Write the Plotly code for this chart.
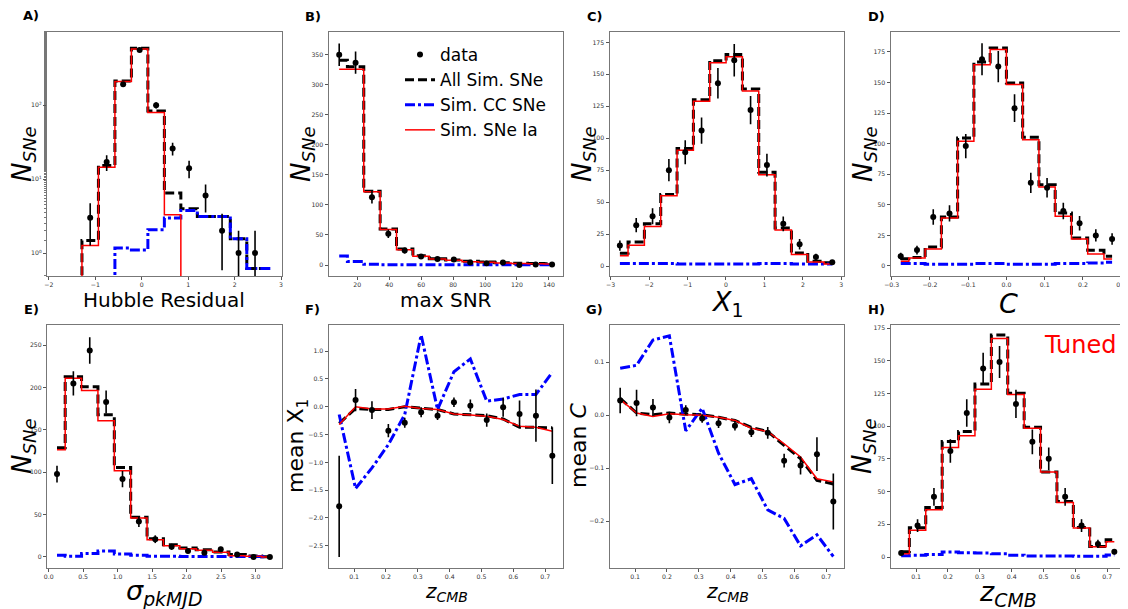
import numpy as np
import plotly.graph_objects as go

# page is shown with an 8px body margin, so the figure is laid out in page pixels
OFF = 8
W, H = 1120, 601

# ---------------- data ----------------
# A) Hubble residual (log y)
hubble_x = [-1.465, -1.11, -0.755, -0.40, -0.045, 0.31, 0.665, 1.02, 1.375, 1.73, 2.085, 2.44, 2.795]
hubble_all = [0, 1.48, 15.3, 213, 589, 83.8, 6.47, 3.97, 3.13, 3.13, 1.56, 0.62, 0.62]
hubble_cc = [0, 0, 0, 1.17, 1.1, 2.07, 2.97, 3.77, 3.13, 3.13, 1.56, 0.62, 0.62]
hubble_ia = [0, 1.27, 14.5, 209, 577, 79.6, 3.3, 0, 0, 0, 0, 0, 0]
hubble_data_x = [-1.11, -0.755, -0.40, -0.045, 0.31, 0.665, 1.02, 1.375, 1.73, 2.085, 2.44]
hubble_data = [3, 17, 192, 560, 100, 26, 14, 6, 2, 1, 1]

# B) max SNR
snr_x = [8.7, 18.95, 29.2, 39.45, 49.7, 59.95, 70.2, 80.45, 90.7, 100.95, 111.2, 121.45, 131.7, 141.95]
snr_all = [341, 330, 123, 60, 26.7, 15.6, 10.6, 8.3, 6.1, 5, 3.9, 3, 2.5, 2]
snr_cc = [15, 6, 1.2, 0.5, 0.5, 0.5, 0.5, 0.5, 0.5, 0.5, 0.5, 0.5, 0.5, 0.5]
snr_ia = [326, 326, 122, 59, 25.6, 14.4, 10, 7.8, 5.6, 4.4, 3.3, 2.5, 2, 1.5]
snr_data = [350, 337, 113, 52, 24, 14, 10, 9, 4, 3, 4, 0, 1, 1]

# C) X1
x1_x = [-2.76, -2.335, -1.91, -1.485, -1.06, -0.635, -0.21, 0.215, 0.64, 1.065, 1.49, 1.915, 2.34, 2.765]
x1_all = [10, 18.8, 33, 56, 92, 130, 160.7, 165.4, 138.5, 73.3, 29.7, 10.2, 3.7, 2.5]
x1_cc = [2, 2, 2, 2, 1.5, 1.5, 1.5, 1.5, 1.5, 2, 2, 1.5, 1.5, 1.5]
x1_ia = [8, 16.2, 31, 55, 90.5, 129, 159, 163.8, 137, 71.5, 28.2, 9.1, 3.1, 1.5]
x1_data = [16, 32, 39, 75, 89, 106, 143, 161, 122, 79, 33, 17, 7, 3]

# D) C
c_x = [-0.27625, -0.23375, -0.19125, -0.14875, -0.10625, -0.06375, -0.02125,
       0.02125, 0.06375, 0.10625, 0.14875, 0.19125, 0.23375, 0.27625]
c_all = [6, 7, 15.5, 40, 104.7, 166.8, 178.2, 149.6, 105.2, 66.5, 43.3, 22.9, 12.8, 7.9]
c_cc = [2, 2, 1.5, 1.5, 1.5, 2, 2, 1.5, 1.5, 1.5, 2, 2, 2.5, 3]
c_ia = [3.8, 6.5, 13.9, 39.2, 102, 164.6, 176.9, 148.3, 103.3, 64.6, 40.6, 22, 9.8, 5.7]
c_data = [8, 13, 40, 43, 98, 169, 163, 129, 68, 64, 45, 35, 25, 22]

# E) sigma pkMJD
pk_x = [0.121, 0.3585, 0.596, 0.8335, 1.071, 1.3085, 1.546, 1.7835, 2.021, 2.2585, 2.496, 2.7335, 2.971, 3.2085]
pk_all = [129, 213, 201, 168, 105.7, 46.8, 21.6, 14.5, 10.6, 8.6, 5.9, 2.8, 1.2, 0.4]
pk_cc = [2, 1, 4, 7, 3.5, 2, 1, 1, 0.5, 0.5, 0.5, 0.5, 0.5, 0.3]
pk_ia = [126.6, 211, 196.5, 161, 101.8, 46, 20.4, 13.4, 9.8, 7.9, 5.5, 1.6, 0.8, 0]
pk_data = [98, 205, 244, 183, 92, 42, 21, 12, 7, 5, 9, 3, 0, 0]

# redshift bins (F, G, H)
z_x = [0.053, 0.1045, 0.156, 0.2075, 0.259, 0.3105, 0.362, 0.4135, 0.465, 0.5165, 0.568, 0.6195, 0.671, 0.7225]

# F) mean X1 vs z
mx1_all = [-0.30, -0.03, -0.05, -0.05, 0.0, -0.02, -0.05, -0.13, -0.14, -0.16, -0.22, -0.37, -0.37, -0.38]
mx1_cc = [-0.14, -1.47, -1.10, -0.68, -0.14, 1.29, -0.05, 0.63, 0.86, 0.10, 0.14, 0.22, 0.22, 0.62]
mx1_ia = [-0.32, 0.0, -0.04, -0.04, 0.01, -0.03, -0.05, -0.13, -0.15, -0.17, -0.23, -0.35, -0.37, -0.44]
mx1_data = [-1.79, 0.12, -0.06, -0.43, -0.29, -0.10, -0.16, 0.08, 0.02, -0.24, -0.01, -0.13, -0.16, -0.88]
mx1_err = [0.91, 0.2, 0.16, 0.12, 0.09, 0.09, 0.08, 0.085, 0.11, 0.12, 0.17, 0.24, 0.47, 0.51]

# G) mean C vs z
mc_all = [0.032, 0.004, 0.001, 0.004, 0.002, 0.001, -0.004, -0.010, -0.023, -0.031, -0.057, -0.082, -0.123, -0.130]
mc_cc = [0.0887, 0.0943, 0.142, 0.150, -0.0296, 0.0132, -0.0717, -0.131, -0.120, -0.179, -0.195, -0.247, -0.226, -0.267]
mc_ia = [0.030, 0.004, -0.0025, 0.0025, 0.0006, 0.0, -0.004, -0.010, -0.0245, -0.031, -0.054, -0.079, -0.120, -0.126]
mc_data = [0.0277, 0.023, 0.0145, -0.0044, 0.010, -0.0063, -0.015, -0.020, -0.032, -0.0333, -0.086, -0.095, -0.0736, -0.163]
mc_err = [0.024, 0.025, 0.016, 0.011, 0.009, 0.008, 0.009, 0.009, 0.009, 0.011, 0.013, 0.017, 0.032, 0.053]

# H) z histogram
hz_all = [4, 22.4, 37.9, 88.3, 96, 132.3, 169.7, 125.2, 99.2, 64.9, 42.5, 22.6, 8.1, 13.2]
hz_cc = [1, 1.3, 2, 3.8, 3.3, 3, 2.5, 1.3, 0.8, 0.8, 0.8, 0.5, 0.5, 1.5]
hz_ia = [2.5, 20.4, 36.1, 83.7, 92.6, 128.2, 167, 124.1, 98.4, 65, 41.7, 22.1, 7.9, 11.7]
hz_data = [3, 24, 46, 81, 110, 144, 149, 117, 88, 75, 46, 24, 10, 4]

# ---------------- layout helpers ----------------
FONT = "DejaVu Sans"
cols_px = [(47, 281.5), (328.5, 563), (609.5, 844), (890.5, 1125)]
rows_px = [(32, 276), (325, 568)]


def px_x(v):
    return (v - OFF) / W


def px_y(v):
    return 1 - (v - OFF) / H


BLACK = dict(color="black", width=3, dash="9px,4px")
BLUE = dict(color="#0000ff", width=3, dash="10px,3px,3px,3px")
RED = dict(color="#ff0000", width=1.5)

fig = go.Figure()

panels = []
panels.append((1, hubble_x, hubble_all, hubble_cc, hubble_ia, hubble_data_x, hubble_data, None, "hvh", True, False))
panels.append((2, snr_x, snr_all, snr_cc, snr_ia, snr_x, snr_data, None, "hvh", False, True))
panels.append((3, x1_x, x1_all, x1_cc, x1_ia, x1_x, x1_data, None, "hvh", False, False))
panels.append((4, c_x, c_all, c_cc, c_ia, c_x, c_data, None, "hvh", False, False))
panels.append((5, pk_x, pk_all, pk_cc, pk_ia, pk_x, pk_data, None, "hvh", False, False))
panels.append((6, z_x, mx1_all, mx1_cc, mx1_ia, z_x, mx1_data, mx1_err, "linear", False, False))
panels.append((7, z_x, mc_all, mc_cc, mc_ia, z_x, mc_data, mc_err, "linear", False, False))
panels.append((8, z_x, hz_all, hz_cc, hz_ia, z_x, hz_data, None, "hvh", False, False))

for idx, xs, yall, ycc, yia, dx, dy, err, shape, logy, leg in panels:
    xa = "x" if idx == 1 else f"x{idx}"
    ya = "y" if idx == 1 else f"y{idx}"

    def prep(v):
        v = np.asarray(v, dtype=float)
        if logy:
            return np.where(v > 0, v, 1e-3)
        return v

    fig.add_trace(go.Scatter(x=xs, y=prep(yall), mode="lines", line=dict(shape=shape, **BLACK),
                             name="All Sim. SNe", showlegend=leg, legendrank=2, xaxis=xa, yaxis=ya))
    fig.add_trace(go.Scatter(x=xs, y=prep(ycc), mode="lines", line=dict(shape=shape, **BLUE),
                             name="Sim. CC SNe", showlegend=leg, legendrank=3, xaxis=xa, yaxis=ya))
    fig.add_trace(go.Scatter(x=xs, y=prep(yia), mode="lines", line=dict(shape=shape, **RED),
                             name="Sim. SNe Ia", showlegend=leg, legendrank=4, xaxis=xa, yaxis=ya))
    dyv = np.asarray(dy, dtype=float)
    e = np.sqrt(dyv) if err is None else np.asarray(err, dtype=float)
    fig.add_trace(go.Scatter(x=dx, y=dyv, mode="markers",
                             marker=dict(color="black", size=6),
                             error_y=dict(type="data", array=e, visible=True, color="black",
                                          thickness=1.6, width=0),
                             name="data", showlegend=leg, legendrank=1, xaxis=xa, yaxis=ya))

axis_common = dict(showline=True, mirror=True, linecolor="#777", linewidth=1,
                   ticks="outside", ticklen=3, tickwidth=1, tickcolor="#555",
                   showgrid=False, zeroline=False, automargin=False,
                   tickfont=dict(family=FONT, size=6.2, color="#333"))

ranges = {
    1: dict(x=[-2.04, 3.01], y=[-0.31, 2.99]),
    2: dict(x=[2.0, 148.8], y=[-18.3, 388]),
    3: dict(x=[-3.03, 3.07], y=[-7.8, 183.1]),
    4: dict(x=[-0.303, 0.31], y=[-8.2, 191.3]),
    5: dict(x=[-0.024, 3.377], y=[-13, 274]),
    6: dict(x=[0.0195, 0.756], y=[-2.9, 1.47]),
    7: dict(x=[0.0195, 0.756], y=[-0.2887, 0.1704]),
    8: dict(x=[0.0195, 0.756], y=[-8.4, 177.3]),
}
xticks = {
    1: ([-2, -1, 0, 1, 2, 3], None),
    2: ([20, 40, 60, 80, 100, 120, 140], None),
    3: ([-3, -2, -1, 0, 1, 2, 3], None),
    4: ([-0.3, -0.2, -0.1, 0.0, 0.1, 0.2, 0.3], ".1f"),
    5: ([0.0, 0.5, 1.0, 1.5, 2.0, 2.5, 3.0], ".1f"),
    6: ([0.1, 0.2, 0.3, 0.4, 0.5, 0.6, 0.7], ".1f"),
    7: ([0.1, 0.2, 0.3, 0.4, 0.5, 0.6, 0.7], ".1f"),
    8: ([0.1, 0.2, 0.3, 0.4, 0.5, 0.6, 0.7], ".1f"),
}
yticks = {
    2: ([0, 50, 100, 150, 200, 250, 300, 350], None),
    3: ([0, 25, 50, 75, 100, 125, 150, 175], None),
    4: ([0, 25, 50, 75, 100, 125, 150, 175], None),
    5: ([0, 50, 100, 150, 200, 250], None),
    6: ([-2.5, -2.0, -1.5, -1.0, -0.5, 0.0, 0.5, 1.0], ".1f"),
    7: ([-0.2, -0.1, 0.0, 0.1], ".1f"),
    8: ([0, 25, 50, 75, 100, 125, 150, 175], None),
}

layout_axes = {}
for idx in range(1, 9):
    r = 0 if idx <= 4 else 1
    c = (idx - 1) % 4
    xd = [px_x(cols_px[c][0]), px_x(cols_px[c][1])]
    yd = [px_y(rows_px[r][1]), px_y(rows_px[r][0])]
    xn = "xaxis" if idx == 1 else f"xaxis{idx}"
    yn = "yaxis" if idx == 1 else f"yaxis{idx}"
    ax_anchor = "y" if idx == 1 else f"y{idx}"
    ay_anchor = "x" if idx == 1 else f"x{idx}"
    xt, xf = xticks[idx]
    xd_ = dict(axis_common, domain=xd, anchor=ax_anchor, range=ranges[idx]["x"],
               tickmode="array", tickvals=xt)
    if xf:
        xd_["tickformat"] = xf
    layout_axes[xn] = xd_
    if idx == 1:
        yd_ = dict(axis_common, domain=yd, anchor=ay_anchor, type="log", range=ranges[1]["y"],
                   tickmode="array", tickvals=[1, 10, 100],
                   ticktext=["10<sup>0</sup>", "10<sup>1</sup>", "10<sup>2</sup>"],
                   minor=dict(ticks="outside", ticklen=2, tickcolor="#777", showgrid=False))
    else:
        yt, yf = yticks[idx]
        yd_ = dict(axis_common, domain=yd, anchor=ay_anchor, range=ranges[idx]["y"],
                   tickmode="array", tickvals=yt)
        if yf:
            yd_["tickformat"] = yf
    layout_axes[yn] = yd_

fig.update_layout(template="none")
fig.update_layout(**layout_axes)

# ---------------- text ----------------
annotations = []


def ann(text, x, y, size, angle=0, color="black", xanchor="center", yanchor="middle", bold=False):
    if bold:
        text = f"<b>{text}</b>"
    annotations.append(dict(text=text, x=px_x(x), y=px_y(y), xref="paper", yref="paper",
                            showarrow=False, textangle=angle, xanchor=xanchor, yanchor=yanchor,
                            font=dict(family=FONT, size=size, color=color)))


for lab, x, y in [("A)", 31, 16), ("B)", 313, 17), ("C)", 594, 17), ("D)", 876, 17),
                  ("E)", 31, 309), ("F)", 312, 309), ("G)", 594, 309), ("H)", 876, 309)]:
    ann(lab, x, y, 13, bold=True)

NSNE = "<i>N</i><sub><i>SNe</i></sub>"
ann(NSNE, 23, 154, 26, angle=-90)
ann(NSNE, 302, 154, 26, angle=-90)
ann(NSNE, 583, 154, 26, angle=-90)
ann(NSNE, 864, 154, 26, angle=-90)
ann(NSNE, 23, 446, 26, angle=-90)
ann("mean X<sub>1</sub>", 297, 446, 22, angle=-90)
ann("mean <i>C</i>", 578, 446, 22, angle=-90)
ann(NSNE, 863, 446, 26, angle=-90)

ann("Hubble Residual", 164, 300, 20)
ann("max SNR", 446, 300, 20)
ann("<i>X</i><sub>1</sub>", 727, 303, 27)
ann("<i>C</i>", 1008, 303, 27)
ann("<i>σ</i><sub><i>pkMJD</i></sub>", 164, 592, 27)
ann("<i>z</i><sub><i>CMB</i></sub>", 446, 592, 20)
ann("<i>z</i><sub><i>CMB</i></sub>", 727, 592, 20)
ann("<i>z</i><sub><i>CMB</i></sub>", 1008, 593, 27)

ann("Tuned", 1118, 345, 24, color="#ff0000", xanchor="right")

fig.update_layout(
    annotations=annotations,
    width=W, height=H,
    margin=dict(l=0, r=0, t=0, b=0, autoexpand=False),
    paper_bgcolor="white", plot_bgcolor="white",
    font=dict(family=FONT, color="black"),
    legend=dict(x=px_x(400), y=px_y(37), xanchor="left", yanchor="top",
                bgcolor="rgba(255,255,255,0)", borderwidth=0,
                font=dict(family=FONT, size=17, color="black"),
                itemwidth=30),
)

fig.write_html("out.html")
